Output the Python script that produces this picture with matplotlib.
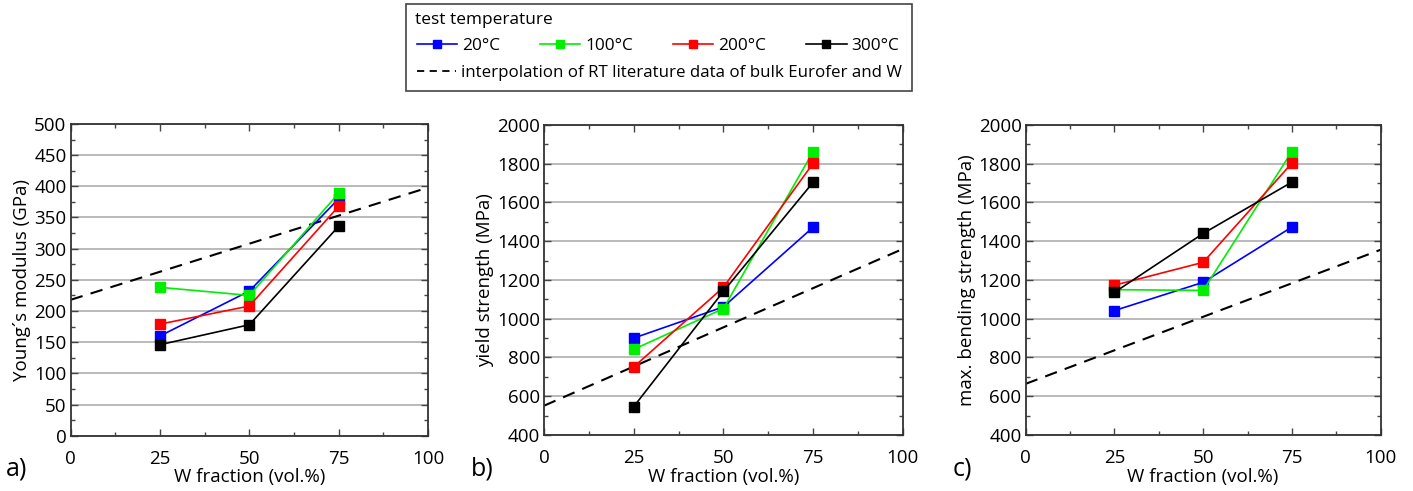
import numpy as np
import matplotlib
matplotlib.use("Agg")
import matplotlib.pyplot as plt
from matplotlib.lines import Line2D
from matplotlib.patches import Rectangle

# ---------------------------------------------------
# Data
# ---------------------------------------------------

w_fraction = [25, 50, 75]
temperatures = ["20°C", "100°C", "200°C", "300°C"]
colors = ["#0000ff", "#00ee00", "#ff0000", "#000000"]

# a) Young's modulus (GPa)
youngs = {
    "20°C": [160, 232, 380],
    "100°C": [238, 225, 389],
    "200°C": [179, 208, 368],
    "300°C": [146, 178, 336],
}
youngs_lit = [218, 398]

# b) yield strength (MPa)
yield_strength = {
    "20°C": [900, 1061, 1472],
    "100°C": [842, 1052, 1862],
    "200°C": [751, 1162, 1802],
    "300°C": [546, 1141, 1704],
}
yield_lit = [551, 1360]

# c) max. bending strength (MPa)
bending = {
    "20°C": [1042, 1188, 1473],
    "100°C": [1150, 1146, 1863],
    "200°C": [1173, 1291, 1803],
    "300°C": [1136, 1440, 1705],
}
bending_lit = [664, 1356]

lit_x = [0, 100]

# ---------------------------------------------------
# Figure setup
# ---------------------------------------------------

plt.rcParams["font.family"] = ["Open Sans", "DejaVu Sans"]
plt.rcParams["font.size"] = 13

fig = plt.figure(figsize=(14.13, 4.91), dpi=100)

panels = [
    dict(rect=[0.0500, 0.1126, 0.2529, 0.6349], data=youngs, lit=youngs_lit,
         ylim=(0, 500), yticks=np.arange(0, 501, 50),
         ylabel="Young´s modulus (GPa)", tag="a)", tag_x=0.004),
    dict(rect=[0.3850, 0.1141, 0.2539, 0.6314], data=yield_strength, lit=yield_lit,
         ylim=(400, 2000), yticks=np.arange(400, 2001, 200),
         ylabel="yield strength (MPa)", tag="b)", tag_x=0.333),
    dict(rect=[0.7259, 0.1141, 0.2512, 0.6314], data=bending, lit=bending_lit,
         ylim=(400, 2000), yticks=np.arange(400, 2001, 200),
         ylabel="max. bending strength (MPa)", tag="c)", tag_x=0.674),
]

for p in panels:
    ax = fig.add_axes(p["rect"])

    for t, c in zip(temperatures, colors):
        ax.plot(w_fraction, p["data"][t], color=c, lw=1.2,
                marker="s", ms=6.5, mec=c, mfc=c, zorder=3)

    ax.plot(lit_x, p["lit"], color="black", lw=1.5,
            dashes=(6, 4), zorder=2)

    ax.set_xlim(0, 100)
    ax.set_ylim(*p["ylim"])
    ax.set_xticks([0, 25, 50, 75, 100])
    ax.set_xticks(np.arange(12.5, 100, 25), minor=True)
    ax.set_yticks(p["yticks"])
    step = p["yticks"][1] - p["yticks"][0]
    ax.set_yticks(np.arange(p["ylim"][0] + step / 2, p["ylim"][1], step), minor=True)

    ax.grid(axis="y", which="major", color="#b4b4b4", lw=1.3, zorder=0)
    ax.tick_params(which="both", direction="in", top=True, right=True,
                   color="#444444", labelsize=13.5, pad=3)
    ax.tick_params(axis="x", which="both", pad=10)
    ax.tick_params(which="major", length=5, width=1)
    ax.tick_params(which="minor", length=3, width=1)
    for s in ax.spines.values():
        s.set_color("#333333")
        s.set_linewidth(1.3)

    ax.set_xlabel("W fraction (vol.%)", fontsize=13.5, labelpad=0.5)
    ax.set_ylabel(p["ylabel"], fontsize=13.5, labelpad=2)

    fig.text(p["tag_x"], 0.02, p["tag"], fontsize=18, ha="left", va="bottom")

# ---------------------------------------------------
# Legend box on top
# ---------------------------------------------------

fig.text(415 / 1413, 1 - 20 / 491, "test temperature", fontsize=12.4,
         ha="left", va="center")

handles = [Line2D([], [], color=c, lw=1.2, marker="s", ms=5.5, mec=c, mfc=c)
           for c in colors]
leg1 = fig.legend(handles, temperatures, ncol=4,
                  loc="center left", bbox_to_anchor=(0.290, 1 - 46 / 491),
                  frameon=False, fontsize=12.4,
                  handlelength=2.35, handletextpad=0.3, columnspacing=2.3,
                  borderaxespad=0)

dash_handle = Line2D([], [], color="black", lw=1.3, dashes=(4, 3))
leg2 = fig.legend([dash_handle],
                  ["interpolation of RT literature data of bulk Eurofer and W"],
                  loc="center left", bbox_to_anchor=(0.290, 1 - 73 / 491),
                  frameon=False, fontsize=12.2, handlelength=2.35,
                  handletextpad=0.3, borderaxespad=0)

fig.add_artist(Rectangle((406 / 1413, 1 - 91 / 491), (912 - 406) / 1413, 87 / 491,
                         transform=fig.transFigure, fill=False,
                         ec="#444444", lw=1.2))

fig.savefig("out.png", dpi=100)
